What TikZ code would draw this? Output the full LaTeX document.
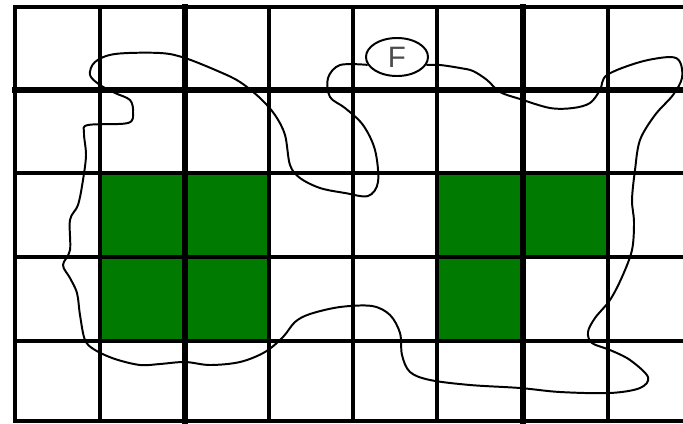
\documentclass[tikz,border=0pt]{standalone}
\usepackage{fontspec}
\setsansfont{Liberation Sans}
\usetikzlibrary{shapes.geometric}
\definecolor{cellgreen}{RGB}{0,122,0}

\begin{document}
\begin{tikzpicture}[x=0.025cm,y=-0.025cm,
  gridline/.style={line width=2.6pt,line cap=rect},
  thickline/.style={line width=3.6pt,line cap=rect},
  blob/.style={line width=1.4pt,line join=round},
  flag/.style={ellipse,draw,line width=1.4pt,minimum width=1.55cm,minimum height=0.95cm,inner sep=0pt,
    font=\sffamily\fontsize{21}{21}\selectfont,text=black!70}]
\useasboundingbox (0,0) rectangle (683,423);

% green cells
\fill[cellgreen] (100,173) rectangle (269,341);
\fill[cellgreen] (437,173) rectangle (608,257);\fill[cellgreen] (437,257) rectangle (523,341);

% grid
\foreach \x in {15,100,269,353,437,608} \draw[gridline] (\x,7) -- (\x,421);
\foreach \x in {185,523} \draw[thickline] (\x,7) -- (\x,421);
\foreach \y in {7,173,257,341,421} \draw[gridline] (15,\y) -- (683,\y);
\draw[thickline] (15,90) -- (683,90);

% boundary through F
\node[flag] (F) at (397,57) {F};
\draw[blob] plot[smooth,tension=0.55] coordinates {(F.-15) (440,65) (460,68) (473,71) (487,80)
  (500,92) (520,99) (550,108) (573,108) (590,103) (600,90) (607,75) (640,62) (670,57) (680,62)
  (682,78) (673,95) (655,115) (640,140) (635,170) (632,200) (634,222) (632,250) (622,277)
  (610,300) (595,318) (588,332) (592,343) (610,350) (630,360) (648,377) (640,388) (610,393)
  (560,392) (520,388) (470,385) (430,380) (410,372) (402,355) (400,333) (390,315) (372,306)
  (340,307) (310,314) (295,322) (283,337) (265,352) (240,362) (210,365) (185,362) (160,364)
  (140,365) (115,359) (95,350) (85,340) (80,315) (77,293) (70,278) (63,265) (70,250) (70,220)
  (78,205) (83,180) (86,155) (84,133) (88,125) (128,123) (133,112) (130,100) (115,93) (100,85)
  (90,75) (95,62) (115,54) (160,53) (185,58) (220,72) (240,82) (260,98) (275,115) (285,135)
  (290,165) (300,178) (320,188) (345,193) (368,196) (378,182) (375,150) (363,125) (345,108)
  (330,97) (328,78) (340,65) (F.195)};
\end{tikzpicture}
\end{document}
